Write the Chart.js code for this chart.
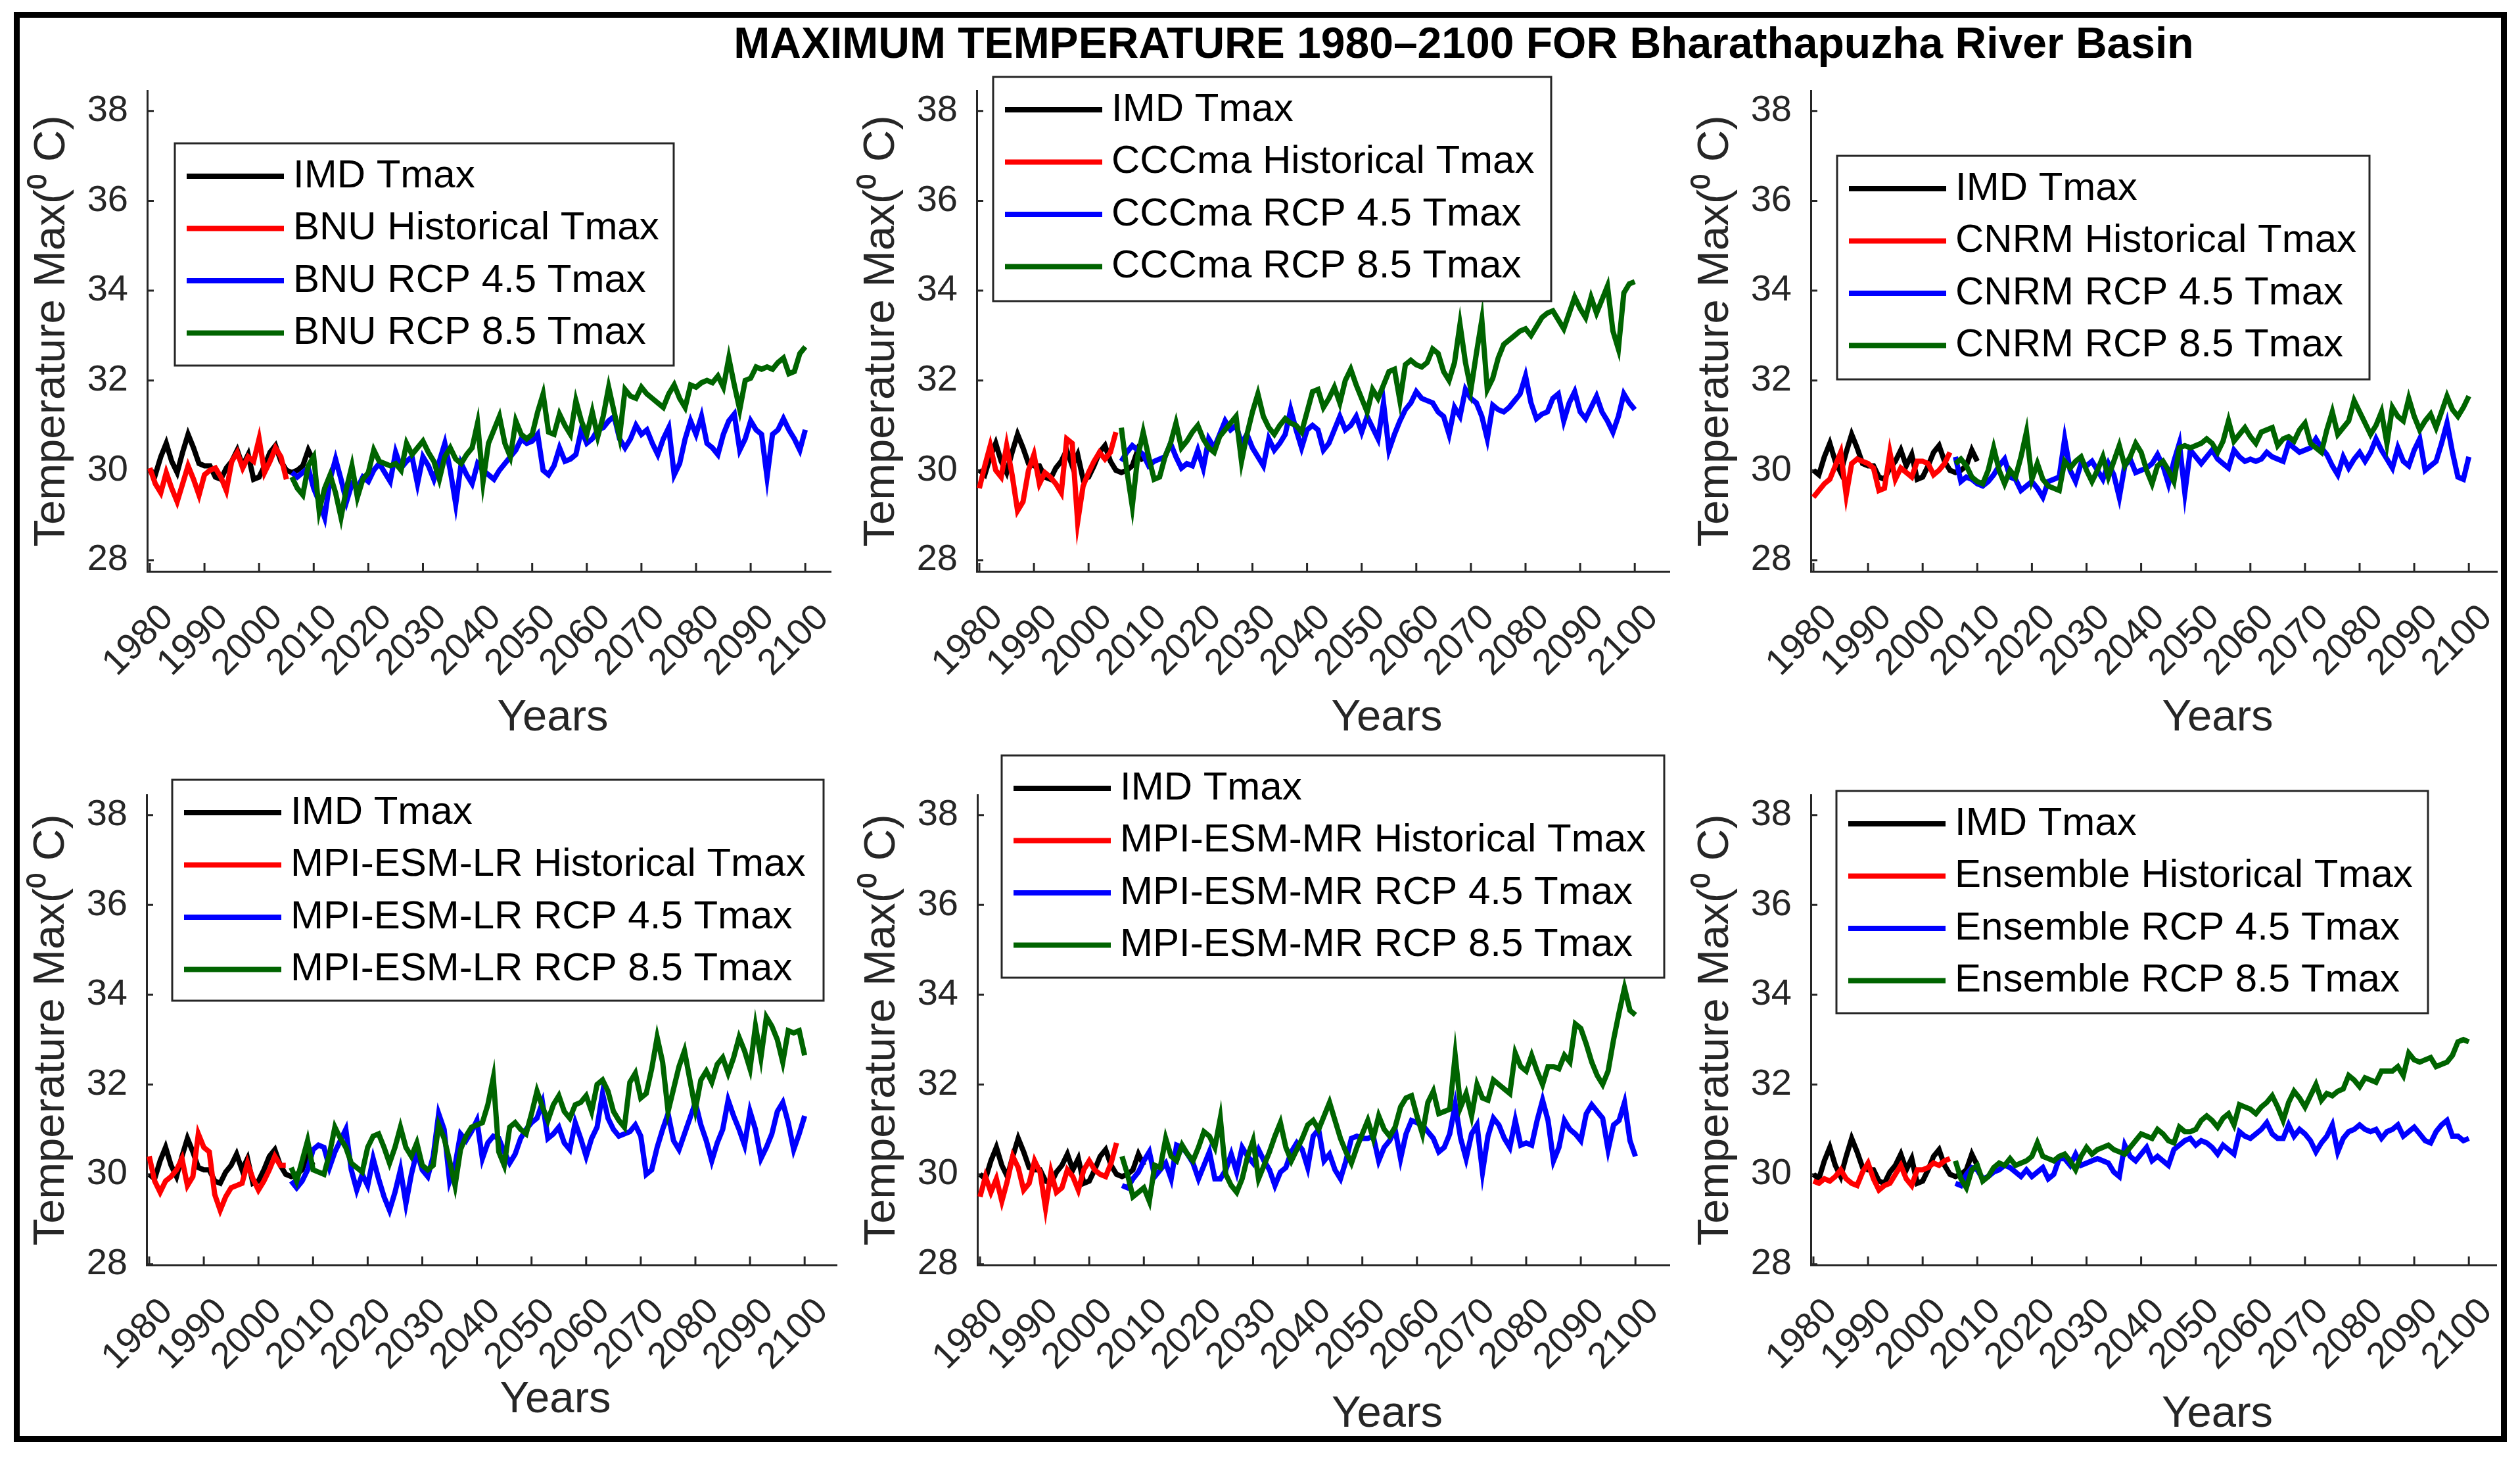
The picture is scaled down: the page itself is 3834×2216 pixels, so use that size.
<!DOCTYPE html>
<html>
<head>
<meta charset="utf-8">
<script src="https://cdn.jsdelivr.net/npm/chart.js@4.4.1/dist/chart.umd.min.js"></script>
<style>
html,body{margin:0;padding:0;background:#fff;}
body{width:3834px;height:2216px;position:relative;overflow:hidden;font-family:"Liberation Sans",Arial,sans-serif;}
#frame{position:absolute;left:21px;top:18px;width:3793px;height:2175px;border:9px solid #000;box-sizing:border-box;}
#title{position:absolute;left:727px;width:3000px;top:32px;text-align:center;font-weight:bold;font-size:66px;line-height:66px;color:#000;white-space:nowrap;}
canvas{position:absolute;}
</style>
</head>
<body>
<div id="frame"></div>
<div id="title">MAXIMUM TEMPERATURE 1980–2100 FOR Bharathapuzha River Basin</div>
<script>
// ---------------- DATA ----------------
const HIST_START = 1980;   // first year of IMD and historical series
const RCP_START = 2006;    // first year of RCP scenarios
const xTickYears = [1980,1990,2000,2010,2020,2030,2040,2050,2060,2070,2080,2090,2100];
const yTickValues = [28,30,32,34,36,38];
const modelNames = ['BNU','CCCma','CNRM','MPI-ESM-LR','MPI-ESM-MR','Ensemble'];

// observed IMD Tmax 1980-2010 (same in all panels)
const imdTmax = [30.0,29.9,30.3,30.6,30.2,29.95,30.4,30.8,30.5,30.15,30.1,30.1,29.85,29.8,30.05,30.2,30.45,30.1,30.35,29.8,29.85,30.1,30.4,30.55,30.2,30.0,29.95,30.0,30.1,30.45,30.2];

// historical 1980-2005
const bnuHist   = [30.05,29.7,29.5,29.95,29.6,29.3,29.7,30.1,29.8,29.45,29.9,30.0,30.05,29.85,29.55,30.2,30.4,30.05,30.3,30.2,30.7,29.95,30.2,30.5,30.3,29.8];
const cccmaHist = [29.6,30.1,30.55,30.0,29.85,30.55,29.9,29.1,29.3,30.0,30.35,29.7,29.95,29.85,29.7,29.5,30.7,30.6,28.85,29.65,29.95,30.2,30.4,30.25,30.4,30.85];
const cnrmHist  = [29.4,29.55,29.7,29.8,30.1,30.4,29.45,30.15,30.25,30.2,30.15,30.05,29.55,29.6,30.4,29.8,30.05,29.95,29.85,30.2,30.2,30.15,29.9,30.0,30.15,30.4];
const mpiLrHist = [30.4,29.85,29.6,29.85,29.95,30.1,30.35,29.75,29.95,30.9,30.6,30.5,29.55,29.2,29.5,29.7,29.75,29.8,30.25,29.9,29.65,29.85,30.1,30.4,30.2,30.2];
const mpiMrHist = [29.5,29.95,29.6,29.9,29.4,29.85,30.4,30.15,29.65,29.8,30.3,30.05,29.25,30.05,29.6,29.7,30.1,29.95,29.65,30.1,30.3,30.1,30.0,29.95,30.25,30.7];
const ensHist   = [29.85,29.8,29.9,29.85,29.95,30.1,29.9,29.8,29.75,30.05,30.25,29.9,29.65,29.75,29.8,30.0,30.2,29.9,29.75,30.1,30.1,30.15,30.25,30.2,30.3,30.35];

// RCP 4.5, 2006-2100
const bnuRcp45 = [29.95,29.85,29.95,30.05,29.6,29.3,28.95,29.8,30.25,29.8, 29.3,29.7,29.6,29.85,29.75,30.0,30.15,29.95,29.75,30.4, 30.05,30.2,30.3,29.7,30.3,30.1,29.8,30.2,30.6,30.0, 29.25,30.15,29.9,29.7,30.15,30.0,29.9,29.8,30.0,30.15, 30.3,30.45,30.7,30.6,30.65,30.8,30.0,29.9,30.1,30.5, 30.2,30.25,30.35,30.9,30.6,30.7,30.9,30.95,31.1,31.2, 30.7,30.5,30.7,31.0,30.8,30.9,30.6,30.35,30.7,30.95, 29.9,30.15,30.7,31.1,30.8,31.2,30.6,30.5,30.35,30.8, 31.1,31.25,30.45,30.7,31.1,30.9,30.8,29.85,30.8,30.9, 31.15,30.9,30.7,30.45,30.9];
const cccmaRcp45 = [30.2,30.4,30.55,30.45,30.35,30.1,30.2,30.25,30.3,30.6, 30.3,30.05,30.15,30.1,30.45,30.05,30.7,30.5,30.8,31.1, 30.9,31.0,30.6,30.8,30.5,30.3,30.1,30.7,30.45,30.6, 30.8,31.35,30.9,30.5,30.9,31.0,30.9,30.45,30.6,30.9, 31.2,30.9,31.0,31.2,30.85,31.2,30.95,30.7,31.5,30.45, 30.8,31.1,31.35,31.5,31.75,31.6,31.55,31.5,31.3,31.2, 30.8,31.4,31.2,31.8,31.6,31.5,31.2,30.7,31.45,31.35, 31.3,31.4,31.55,31.7,32.1,31.5,31.15,31.25,31.3,31.6, 31.7,31.1,31.5,31.75,31.3,31.15,31.4,31.65,31.3,31.1, 30.85,31.2,31.7,31.5,31.35];
const cnrmRcp45 = [30.3,29.75,29.85,29.8,29.7,29.65,29.75,29.9,30.1,30.25, 29.85,29.8,29.55,29.65,29.75,29.6,29.4,29.75,29.8,29.85, 30.7,30.0,29.75,30.15,30.1,30.2,30.0,29.8,30.15,29.9, 29.4,30.1,30.25,29.95,30.0,30.05,30.15,30.35,30.1,29.7, 30.2,30.6,29.5,30.45,30.3,30.15,30.3,30.45,30.25,30.15, 30.05,30.45,30.3,30.2,30.25,30.2,30.25,30.4,30.3,30.25, 30.2,30.6,30.5,30.4,30.45,30.5,30.7,30.5,30.35,30.1, 29.9,30.3,30.05,30.25,30.4,30.2,30.4,30.7,30.45,30.25, 30.05,30.5,30.2,30.1,30.45,30.7,30.0,30.1,30.2,30.6, 31.05,30.4,29.85,29.8,30.3];
const mpiLrRcp45 = [29.85,29.7,29.85,30.1,30.55,30.65,30.6,30.15,30.5,30.75, 31.0,30.1,29.65,30.0,29.75,30.35,29.9,29.5,29.2,29.6, 30.1,29.35,30.0,30.5,30.1,29.95,30.4,31.35,31.0,29.85, 30.2,30.9,30.75,30.95,31.2,30.35,30.7,30.85,30.8,30.5, 30.25,30.45,30.8,31.0,31.15,31.25,31.6,30.8,30.9,31.05, 30.7,30.55,31.15,30.8,30.4,30.8,31.05,31.8,31.25,31.0, 30.85,30.9,30.95,31.1,30.85,30.0,30.1,30.6,31.0,31.35, 30.75,30.55,30.9,31.25,31.6,31.1,30.75,30.3,30.7,31.0, 31.65,31.3,31.0,30.65,31.4,31.0,30.35,30.6,30.9,31.4, 31.6,31.15,30.55,30.9,31.3];
const mpiMrRcp45 = [29.75,29.7,29.9,30.05,30.3,30.5,29.95,30.1,30.25,29.9, 30.65,30.6,30.45,30.25,29.9,30.2,30.5,29.9,29.9,30.1, 30.45,30.05,30.6,30.4,30.25,30.55,30.3,30.1,29.75,30.05, 30.15,30.5,30.7,30.55,30.15,30.85,31.0,30.3,30.45,30.1, 29.9,30.3,30.8,30.85,30.8,30.8,30.85,30.3,30.6,30.75, 31.0,30.35,30.9,31.2,31.15,31.1,30.95,30.8,30.5,30.6, 30.9,31.55,30.8,30.35,30.9,31.1,30.05,30.85,31.25,31.1, 30.8,30.6,31.2,30.65,30.7,30.65,31.2,31.65,31.2,30.3, 30.6,31.2,31.0,30.9,30.75,31.35,31.55,31.4,31.25,30.55, 31.1,31.2,31.6,30.75,30.4];
const ensRcp45 = [29.8,29.75,30.0,30.15,30.1,29.9,29.95,30.05,30.1,30.2, 30.15,30.05,29.95,30.1,29.95,30.05,30.15,29.9,30.0,30.35, 30.35,30.2,30.45,30.2,30.25,30.3,30.35,30.3,30.25,30.05, 29.95,30.65,30.4,30.3,30.45,30.6,30.3,30.4,30.3,30.2, 30.55,30.65,30.75,30.8,30.65,30.75,30.7,30.6,30.45,30.65, 30.55,30.45,30.95,30.85,30.8,30.9,31.0,31.15,30.9,30.8, 30.8,31.1,30.85,31.0,30.9,30.75,30.5,30.7,30.85,31.1, 30.5,30.8,30.95,31.0,31.1,31.0,30.95,31.0,30.8,30.95, 31.0,31.1,30.85,30.95,31.05,30.9,30.75,30.7,30.95,31.1, 31.2,30.85,30.85,30.75,30.8];

// RCP 8.5, 2006-2100
const bnuRcp85 = [29.85,29.6,29.45,30.1,30.3,29.1,29.6,29.9,29.5,28.95, 29.6,30.1,29.4,29.8,29.95,30.45,30.2,30.15,30.1,30.15, 30.0,30.6,30.35,30.5,30.65,30.4,30.2,29.8,30.3,30.5, 30.25,30.15,30.35,30.5,31.05,29.75,30.6,30.9,31.2,30.6, 30.3,31.1,30.8,30.7,30.8,31.3,31.7,30.85,30.8,31.25, 31.0,30.8,31.55,31.1,30.8,31.3,30.75,31.2,31.85,31.3, 30.75,31.8,31.65,31.6,31.85,31.7,31.6,31.5,31.4,31.7, 31.9,31.6,31.4,31.9,31.85,31.95,32.0,31.95,32.1,31.85, 32.5,31.9,31.35,32.0,32.05,32.3,32.25,32.3,32.25,32.4, 32.5,32.15,32.2,32.6,32.75];
const cccmaRcp85 = [30.95,30.0,29.2,30.3,30.85,30.3,29.8,29.85,30.3,30.6, 31.05,30.5,30.65,30.85,31.0,30.7,30.5,30.4,30.75,30.9, 31.05,31.2,30.2,30.8,31.3,31.7,31.2,30.95,30.8,31.0, 31.15,31.05,31.0,30.85,31.3,31.75,31.8,31.4,31.6,31.85, 31.5,32.0,32.25,31.9,31.6,31.3,31.8,31.6,31.9,32.2, 32.25,31.55,32.35,32.45,32.35,32.3,32.4,32.7,32.6,32.2, 32.0,32.4,33.25,32.4,31.8,32.6,33.35,31.8,32.05,32.5, 32.8,32.9,33.0,33.1,33.15,33.0,33.2,33.4,33.5,33.55, 33.35,33.15,33.5,33.85,33.6,33.4,33.85,33.5,33.8,34.1, 33.1,32.7,33.95,34.15,34.2];
const cnrmRcp85 = [30.15,30.25,30.1,29.85,29.75,29.7,30.0,30.5,30.0,29.7, 30.0,29.85,30.3,30.85,29.8,30.15,29.8,29.65,29.6,29.55, 30.2,30.05,30.2,30.3,30.0,29.75,30.0,30.3,29.85,30.2, 30.55,30.1,30.3,30.6,30.4,30.0,29.7,30.1,30.2,30.0, 29.75,30.5,30.55,30.5,30.55,30.6,30.7,30.6,30.4,30.65, 31.1,30.65,30.8,30.95,30.75,30.6,30.85,30.9,30.95,30.55, 30.7,30.75,30.65,30.9,31.05,30.6,30.5,30.4,30.9,31.3, 30.8,30.95,31.1,31.55,31.3,31.05,30.8,31.0,31.3,30.6, 31.4,31.2,31.1,31.6,31.2,30.9,31.1,31.25,30.95,31.3, 31.65,31.35,31.2,31.4,31.65];
const mpiLrRcp85 = [30.15,29.85,30.3,30.75,30.1,30.05,30.0,30.45,31.05,30.8, 30.6,30.25,30.15,30.05,30.6,30.85,30.9,30.6,30.25,30.6, 31.05,30.6,30.4,30.7,30.2,30.1,30.2,31.1,30.8,30.3, 29.75,30.55,30.85,31.05,31.1,31.15,31.55,32.15,30.5,30.2, 31.05,31.15,31.0,30.9,31.35,31.85,31.5,31.2,31.55,31.75, 31.4,31.25,31.55,31.6,31.75,31.4,32.0,32.1,31.85,31.4, 31.2,31.05,32.05,32.25,31.7,31.8,32.35,33.05,32.5,31.4, 31.9,32.4,32.75,32.1,31.45,32.1,32.3,32.05,32.45,32.6, 32.25,32.6,33.05,32.75,32.35,33.3,32.6,33.5,33.3,33.0, 32.5,33.2,33.15,33.2,32.65];
const mpiMrRcp85 = [30.4,30.0,29.5,29.6,29.7,29.4,30.2,30.15,30.8,30.4, 30.3,30.65,30.45,30.3,30.6,30.95,30.85,30.6,31.25,30.0, 29.75,29.6,29.9,30.4,30.75,29.9,30.2,30.5,30.85,31.15, 30.6,30.3,30.55,30.8,31.1,31.2,31.0,31.3,31.6,31.2, 30.8,30.5,30.25,30.6,30.9,31.2,30.8,31.3,31.0,30.85, 31.05,31.5,31.7,31.75,31.3,30.9,31.6,31.85,31.35,31.4, 31.45,32.65,31.5,31.8,31.3,32.0,31.7,31.65,32.1,32.0, 31.9,31.8,32.7,32.4,32.3,32.65,32.3,32.0,32.4,32.4, 32.35,32.65,32.5,33.35,33.25,32.9,32.5,32.2,32.0,32.3, 33.0,33.6,34.15,33.65,33.55];
const ensRcp85 = [30.3,29.9,29.7,30.1,30.2,29.85,29.95,30.15,30.25,30.2, 30.35,30.2,30.25,30.3,30.4,30.7,30.4,30.35,30.3,30.4, 30.45,30.3,30.1,30.4,30.6,30.45,30.55,30.6,30.65,30.55, 30.5,30.45,30.6,30.75,30.9,30.85,30.8,31.0,30.9,30.75, 30.7,31.05,30.95,30.95,31.0,31.2,31.3,31.2,31.05,31.25, 31.35,31.1,31.55,31.5,31.45,31.35,31.5,31.6,31.75,31.5, 31.2,31.6,31.85,31.7,31.5,31.75,32.0,31.65,31.8,31.75, 31.85,31.9,32.2,32.1,31.95,32.15,32.1,32.05,32.3,32.3, 32.3,32.4,32.2,32.7,32.55,32.5,32.55,32.6,32.4,32.45, 32.5,32.65,32.95,33.0,32.95];

const histSeries  = [bnuHist, cccmaHist, cnrmHist, mpiLrHist, mpiMrHist, ensHist];
const rcp45Series = [bnuRcp45, cccmaRcp45, cnrmRcp45, mpiLrRcp45, mpiMrRcp45, ensRcp45];
const rcp85Series = [bnuRcp85, cccmaRcp85, cnrmRcp85, mpiLrRcp85, mpiMrRcp85, ensRcp85];

// ---------------- STYLE / LAYOUT ----------------
const FONT = '"Liberation Sans", Arial, sans-serif';
const AXIS_COLOR = '#262626';
const COLORS = ['#000000', '#ff0000', '#0000ff', '#006400'];
const LINE_WIDTH = 8;
Chart.defaults.font.family = FONT;
Chart.defaults.color = AXIS_COLOR;

const panelBoxes = [
  {L:224,  T:138,  R:1264, B:869,  yMin:27.75, legend:[266,218,1025,556],   yearsY:1093},
  {L:1486, T:138,  R:2540, B:869,  yMin:27.75, legend:[1511,117,2360,458],  yearsY:1093},
  {L:2755, T:138,  R:3799, B:869,  yMin:27.75, legend:[2795,237,3605,577],  yearsY:1093},
  {L:223,  T:1209, R:1273, B:1924, yMin:27.98, legend:[262,1186,1253,1522], yearsY:2130},
  {L:1487, T:1209, R:2540, B:1924, yMin:27.98, legend:[1524,1149,2532,1487],yearsY:2152},
  {L:2755, T:1209, R:3798, B:1924, yMin:27.98, legend:[2794,1203,3694,1541],yearsY:2152}
];
const Y_MAX = 38.45;
const X_MIN = 1979.52;
const PX_PER_YEAR = 8.31;
const LEFT_SPACE = 210, TOP_SPACE = 100, RIGHT_SPACE = 30, BOTTOM_SPACE = 300;

function toPoints(arr, start) { return arr.map((v, i) => ({x: start + i, y: v})); }

const decorPlugin = {
  id: 'decor',
  beforeDatasetsDraw(chart) {
    const {ctx, chartArea: ca, scales: {x, y}} = chart;
    ctx.save();
    ctx.strokeStyle = AXIS_COLOR; ctx.lineWidth = 3;
    ctx.beginPath();
    xTickYears.forEach(v => { const px = x.getPixelForValue(v); ctx.moveTo(px, ca.bottom); ctx.lineTo(px, ca.bottom - 13); });
    yTickValues.forEach(v => { const py = y.getPixelForValue(v); if (py < ca.top || py > ca.bottom) return; ctx.moveTo(ca.left, py); ctx.lineTo(ca.left + 10, py); });
    ctx.stroke();
    ctx.restore();
  },
  afterDraw(chart, args, o) {
    const {ctx, chartArea: ca} = chart;
    ctx.save();
    ctx.font = '67px ' + FONT; ctx.fillStyle = AXIS_COLOR;
    ctx.textAlign = 'center'; ctx.textBaseline = 'middle';
    ctx.fillText(o.xTitle, (ca.left + ca.right) / 2 + o.xTitleShift, o.xTitleY);
    const [lx, ly, rx, by] = o.legendBox;
    ctx.fillStyle = '#ffffff'; ctx.fillRect(lx, ly, rx - lx, by - ly);
    ctx.strokeStyle = AXIS_COLOR; ctx.lineWidth = 3; ctx.strokeRect(lx, ly, rx - lx, by - ly);
    chart.data.datasets.forEach((ds, i) => {
      const cy = ly + 50 + i * 79.5;
      ctx.strokeStyle = ds.borderColor; ctx.lineWidth = LINE_WIDTH;
      ctx.beginPath(); ctx.moveTo(lx + 18, cy); ctx.lineTo(lx + 166, cy); ctx.stroke();
      ctx.fillStyle = '#000'; ctx.font = '60px ' + FONT;
      ctx.textAlign = 'left'; ctx.textBaseline = 'middle';
      ctx.fillText(ds.label, lx + 180, cy);
    });
    ctx.restore();
  }
};

panelBoxes.forEach((p, k) => {
  const cLeft = p.L - LEFT_SPACE, cTop = p.T - TOP_SPACE;
  const cW = p.R - p.L + LEFT_SPACE + RIGHT_SPACE;
  const cH = p.B - p.T + TOP_SPACE + BOTTOM_SPACE;
  const cv = document.createElement('canvas');
  cv.width = cW; cv.height = cH;
  cv.style.left = cLeft + 'px'; cv.style.top = cTop + 'px';
  cv.style.width = cW + 'px'; cv.style.height = cH + 'px';
  document.body.appendChild(cv);
  const m = modelNames[k];
  const labels = ['IMD Tmax', m + ' Historical Tmax', m + ' RCP 4.5 Tmax', m + ' RCP 8.5 Tmax'];
  const seriesData = [toPoints(imdTmax, HIST_START), toPoints(histSeries[k], HIST_START), toPoints(rcp45Series[k], RCP_START), toPoints(rcp85Series[k], RCP_START)];
  const datasets = seriesData.map((d, i) => ({
    label: labels[i], data: d, borderColor: COLORS[i], backgroundColor: COLORS[i],
    borderWidth: LINE_WIDTH, pointRadius: 0, tension: 0, fill: false, order: 3 - i
  }));
  new Chart(cv, {
    type: 'line',
    data: {datasets},
    plugins: [decorPlugin],
    options: {
      responsive: false, animation: false, devicePixelRatio: 1,
      layout: {padding: {left: 0, top: TOP_SPACE, right: RIGHT_SPACE, bottom: 0}},
      plugins: {
        legend: {display: false}, tooltip: {enabled: false}, title: {display: false},
        decor: {
          xTitle: 'Years', xTitleShift: 97, xTitleY: p.yearsY - cTop,
          legendBox: [p.legend[0] - cLeft, p.legend[1] - cTop, p.legend[2] - cLeft, p.legend[3] - cTop]
        }
      },
      scales: {
        x: {
          type: 'linear', min: X_MIN, max: X_MIN + (p.R - p.L) / PX_PER_YEAR,
          grid: {display: false, drawTicks: false},
          border: {display: true, color: AXIS_COLOR, width: 3},
          afterBuildTicks: s => { s.ticks = xTickYears.map(v => ({value: v})); },
          afterFit: s => { s.height = BOTTOM_SPACE; s.paddingLeft = 0; s.paddingRight = 0; },
          ticks: {autoSkip: false, minRotation: 45, maxRotation: 45, padding: 38, labelOffset: 27,
                  color: AXIS_COLOR, font: {size: 56}, callback: v => String(v)}
        },
        y: {
          type: 'linear', min: p.yMin, max: Y_MAX,
          grid: {display: false, drawTicks: false},
          border: {display: true, color: AXIS_COLOR, width: 3},
          afterBuildTicks: s => { s.ticks = yTickValues.map(v => ({value: v})); },
          afterFit: s => { s.width = LEFT_SPACE; s.paddingTop = 0; s.paddingBottom = 0; },
          ticks: {padding: 29, color: AXIS_COLOR, font: {size: 56}, callback: v => String(v)},
          title: {display: true, text: 'Temperature Max(⁰ C)', color: AXIS_COLOR, font: {size: 67}, padding: {top: 25, bottom: 0}}
        }
      }
    }
  });
});
</script>
</body>
</html>
